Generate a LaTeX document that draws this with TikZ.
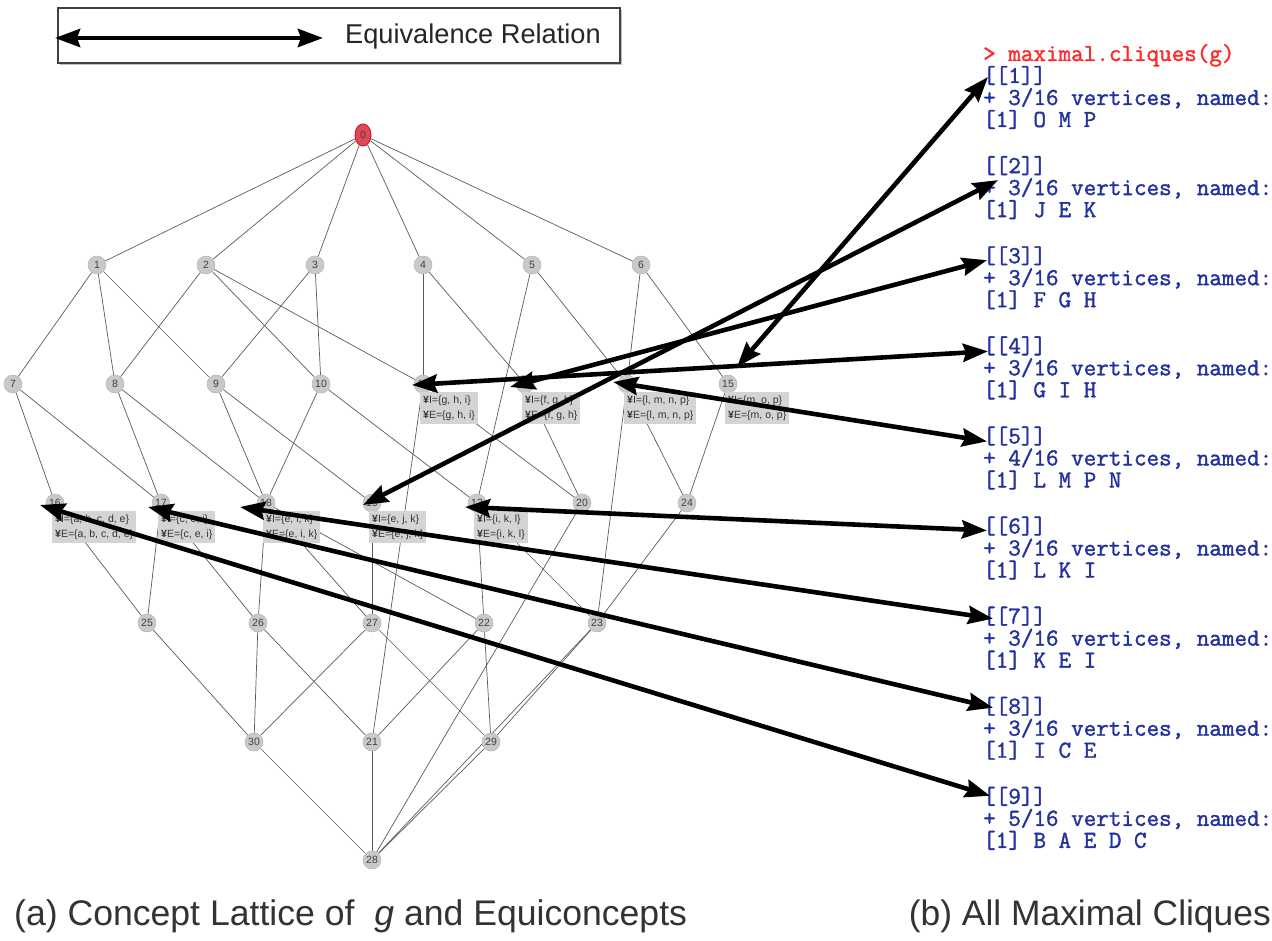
\documentclass[tikz,border=0pt]{standalone}
\usepackage{fontspec}
\setmainfont{Liberation Sans}
\newfontfamily\rmono{Latin Modern Mono}[FakeBold=1.6]
\usetikzlibrary{arrows.meta,shapes.geometric,calc,backgrounds}
\definecolor{edgec}{HTML}{5A5A5A}
\definecolor{nodefill}{HTML}{C9C9C9}
\definecolor{nodedraw}{HTML}{B4B4B4}
\definecolor{labelc}{HTML}{404040}
\definecolor{boxfill}{HTML}{D4D4D4}
\definecolor{boxtext}{HTML}{333333}
\definecolor{topfill}{HTML}{E04858}
\definecolor{topdraw}{HTML}{D01C30}
\definecolor{capc}{HTML}{333333}
\definecolor{rblue}{HTML}{2232A0}
\definecolor{rred}{HTML}{FF2A2A}
\newcommand{\icn}{{\bfseries ¥}}
\tikzset{
  lnode/.style={circle, fill=nodefill, draw=nodedraw, line width=0.5pt, minimum size=18pt, inner sep=0pt,
    font=\fontsize{10.5}{10.5}\selectfont, text=labelc},
  ibox/.style={rectangle, fill=boxfill, anchor=north west, inner xsep=3pt, inner ysep=3.5pt, align=left,
    font=\fontsize{10.5}{15}\selectfont, text=boxtext},
  latline/.style={draw=edgec, line width=0.7pt},
  eqarrow/.style={line width=4.6pt, black,
    {Stealth[length=25pt,width=18pt,inset=3pt]}-{Stealth[length=25pt,width=18pt,inset=3pt]}},
  mono/.style={anchor=base west, inner sep=0pt, font=\rmono\fontsize{24.4}{22}\selectfont, text=rblue},
}
\begin{document}
\begin{tikzpicture}[x=1pt,y=-1pt]
\useasboundingbox (0,0) rectangle (1272,941);

% ---------- legend ----------
\fill[black!25] (60,10) rectangle (622,65);
\draw[fill=white, draw=black!75, line width=1.1pt] (58,8) rectangle (620,63);
\coordinate (la) at (55,38);
\coordinate (lb) at (323,38);
\draw[eqarrow] (la) -- (lb);
\node[anchor=west, inner sep=0pt, font=\fontsize{27.2}{30}\selectfont, text=black!85] (legtext) at (345,36) {Equivalence Relation};

% ---------- lattice nodes ----------
\node[ellipse, fill=topfill, draw=topdraw, line width=1pt, minimum width=16pt, minimum height=22pt, inner sep=0pt,
      font=\fontsize{10.5}{10.5}\selectfont, text=labelc] (n0) at (363,135) {0};
\node[lnode] (n1) at (97,265) {1};
\node[lnode] (n2) at (206,265) {2};
\node[lnode] (n3) at (315,265) {3};
\node[lnode] (n4) at (423,265) {4};
\node[lnode] (n5) at (532,265) {5};
\node[lnode] (n6) at (641,265) {6};
\node[lnode] (n7) at (13,384) {7};
\node[lnode] (n8) at (115,384) {8};
\node[lnode] (n9) at (216,384) {9};
\node[lnode] (n10) at (321,384) {10};
\node[lnode] (n11) at (423,384) {11};
\node[lnode] (n12) at (525,384) {12};
\node[lnode] (n14) at (627,384) {14};
\node[lnode] (n15) at (728,384) {15};
\node[lnode] (n16) at (55,503) {16};
\node[lnode] (n17) at (161,503) {17};
\node[lnode] (n18) at (266,503) {18};
\node[lnode] (n19) at (372,503) {19};
\node[lnode] (n13) at (477,503) {13};
\node[lnode] (n20) at (582,503) {20};
\node[lnode] (n24) at (687,503) {24};
\node[lnode] (n25) at (147,623) {25};
\node[lnode] (n26) at (258,623) {26};
\node[lnode] (n27) at (372,623) {27};
\node[lnode] (n22) at (484,623) {22};
\node[lnode] (n23) at (597,623) {23};
\node[lnode] (n30) at (254,742) {30};
\node[lnode] (n21) at (372,742) {21};
\node[lnode] (n29) at (491,742) {29};
\node[lnode] (n28) at (372,860) {28};

% ---------- equiconcept boxes ----------
\node[ibox] (b11) at ($(n11)+(-3,8)$) {\icn I=\{g, h, i\}\\\icn E=\{g, h, i\}};
\node[ibox] (b12) at ($(n12)+(-3,8)$) {\icn I=\{f, g, h\}\\\icn E=\{f, g, h\}};
\node[ibox] (b14) at ($(n14)+(-3,8)$) {\icn I=\{l, m, n, p\}\\\icn E=\{l, m, n, p\}};
\node[ibox] (b15) at ($(n15)+(-3,8)$) {\icn I=\{m, o, p\}\\\icn E=\{m, o, p\}};
\node[ibox] (b16) at ($(n16)+(-3,8)$) {\icn I=\{a, b, c, d, e\}\\\icn E=\{a, b, c, d, e\}};
\node[ibox] (b17) at ($(n17)+(-3,8)$) {\icn I=\{c, e, i\}\\\icn E=\{c, e, i\}};
\node[ibox] (b18) at ($(n18)+(-3,8)$) {\icn I=\{e, i, k\}\\\icn E=\{e, i, k\}};
\node[ibox] (b19) at ($(n19)+(-3,8)$) {\icn I=\{e, j, k\}\\\icn E=\{e, j, k\}};
\node[ibox] (b13) at ($(n13)+(-3,8)$) {\icn I=\{i, k, l\}\\\icn E=\{i, k, l\}};

% ---------- lattice edges ----------
\begin{scope}[on background layer]
\foreach \a/\b in {0/1,0/2,0/3,0/4,0/5,0/6,
  1/7,1/8,1/9,2/8,2/10,2/11,3/9,3/10,4/11,4/12,5/13,5/14,6/14,6/15,
  7/16,7/17,8/17,8/18,9/18,9/19,10/18,10/13,11/20,11/21,12/20,14/24,14/23,15/24,
  16/25,17/25,17/26,18/26,18/27,18/22,19/27,13/22,13/23,20/28,24/23,
  25/30,26/30,26/21,27/30,27/29,22/21,22/29,23/29,23/28,
  30/28,21/28,29/28}
  \draw[latline] (n\a) -- (n\b);
\end{scope}

% ---------- R output ----------
\node[mono, text=rred] (cmd) at (983,61) {> maximal.cliques(g)};
\foreach \k/\sz/\names [count=\i] in {1/3/O M P, 2/3/J E K, 3/3/F G H, 4/3/G I H, 5/4/L M P N,
    6/3/L K I, 7/3/K E I, 8/3/I C E, 9/5/B A E D C} {
  \pgfmathsetmacro{\yy}{77+90.1*(\i-1)}
  \node[mono] (h\k) at (983,\yy+6) {[[\k]]};
  \node[mono] (v\k) at (983,\yy+28) {+ \sz/16 vertices, named:};
  \node[mono] (m\k) at (983,\yy+50) {[1] \names};
}

% ---------- equivalence arrows ----------
\coordinate (r1) at ($(h1.base west)+(5,-6)$);
\coordinate (r2) at ($(h2.base west)+(15,7)$);
\coordinate (r3) at ($(h3.base west)+(4,-3)$);
\coordinate (r4) at ($(h4.base west)+(5,-2)$);
\coordinate (r5) at ($(h5.base west)+(4,-2)$);
\coordinate (r6) at ($(h6.base west)+(4,-3)$);
\coordinate (r7) at ($(h7.base west)+(10,-5)$);
\coordinate (r8) at ($(h8.base west)+(10,-6)$);
\coordinate (r9) at ($(h9.base west)+(7,-8)$);
\coordinate (t1) at ($(n15)+(9,-17)$);
\coordinate (t2) at ($(n19)+(-9,2)$);
\coordinate (t3) at ($(n12)+(-15,3)$);
\coordinate (t4) at ($(n11)+(-11,1)$);
\coordinate (t5) at ($(n14)+(-14,-2)$);
\coordinate (t6) at ($(n13)+(-12,4)$);
\coordinate (t7) at ($(n18)+(-26,4)$);
\coordinate (t8) at ($(n17)+(-13,4)$);
\coordinate (t9) at ($(n16)+(-15,2)$);
\foreach \k in {1,...,9} \draw[eqarrow] (r\k) -- (t\k);

% ---------- captions ----------
\node[anchor=west, inner sep=0pt, font=\fontsize{35.6}{40}\selectfont, text=capc] (capa) at (14,916)
  {(a) Concept Lattice of\ \ \textit{g} and Equiconcepts};
\node[anchor=east, inner sep=0pt, font=\fontsize{35.4}{40}\selectfont, text=capc] (capb) at (1271,916)
  {(b) All Maximal Cliques};
\end{tikzpicture}
\end{document}
